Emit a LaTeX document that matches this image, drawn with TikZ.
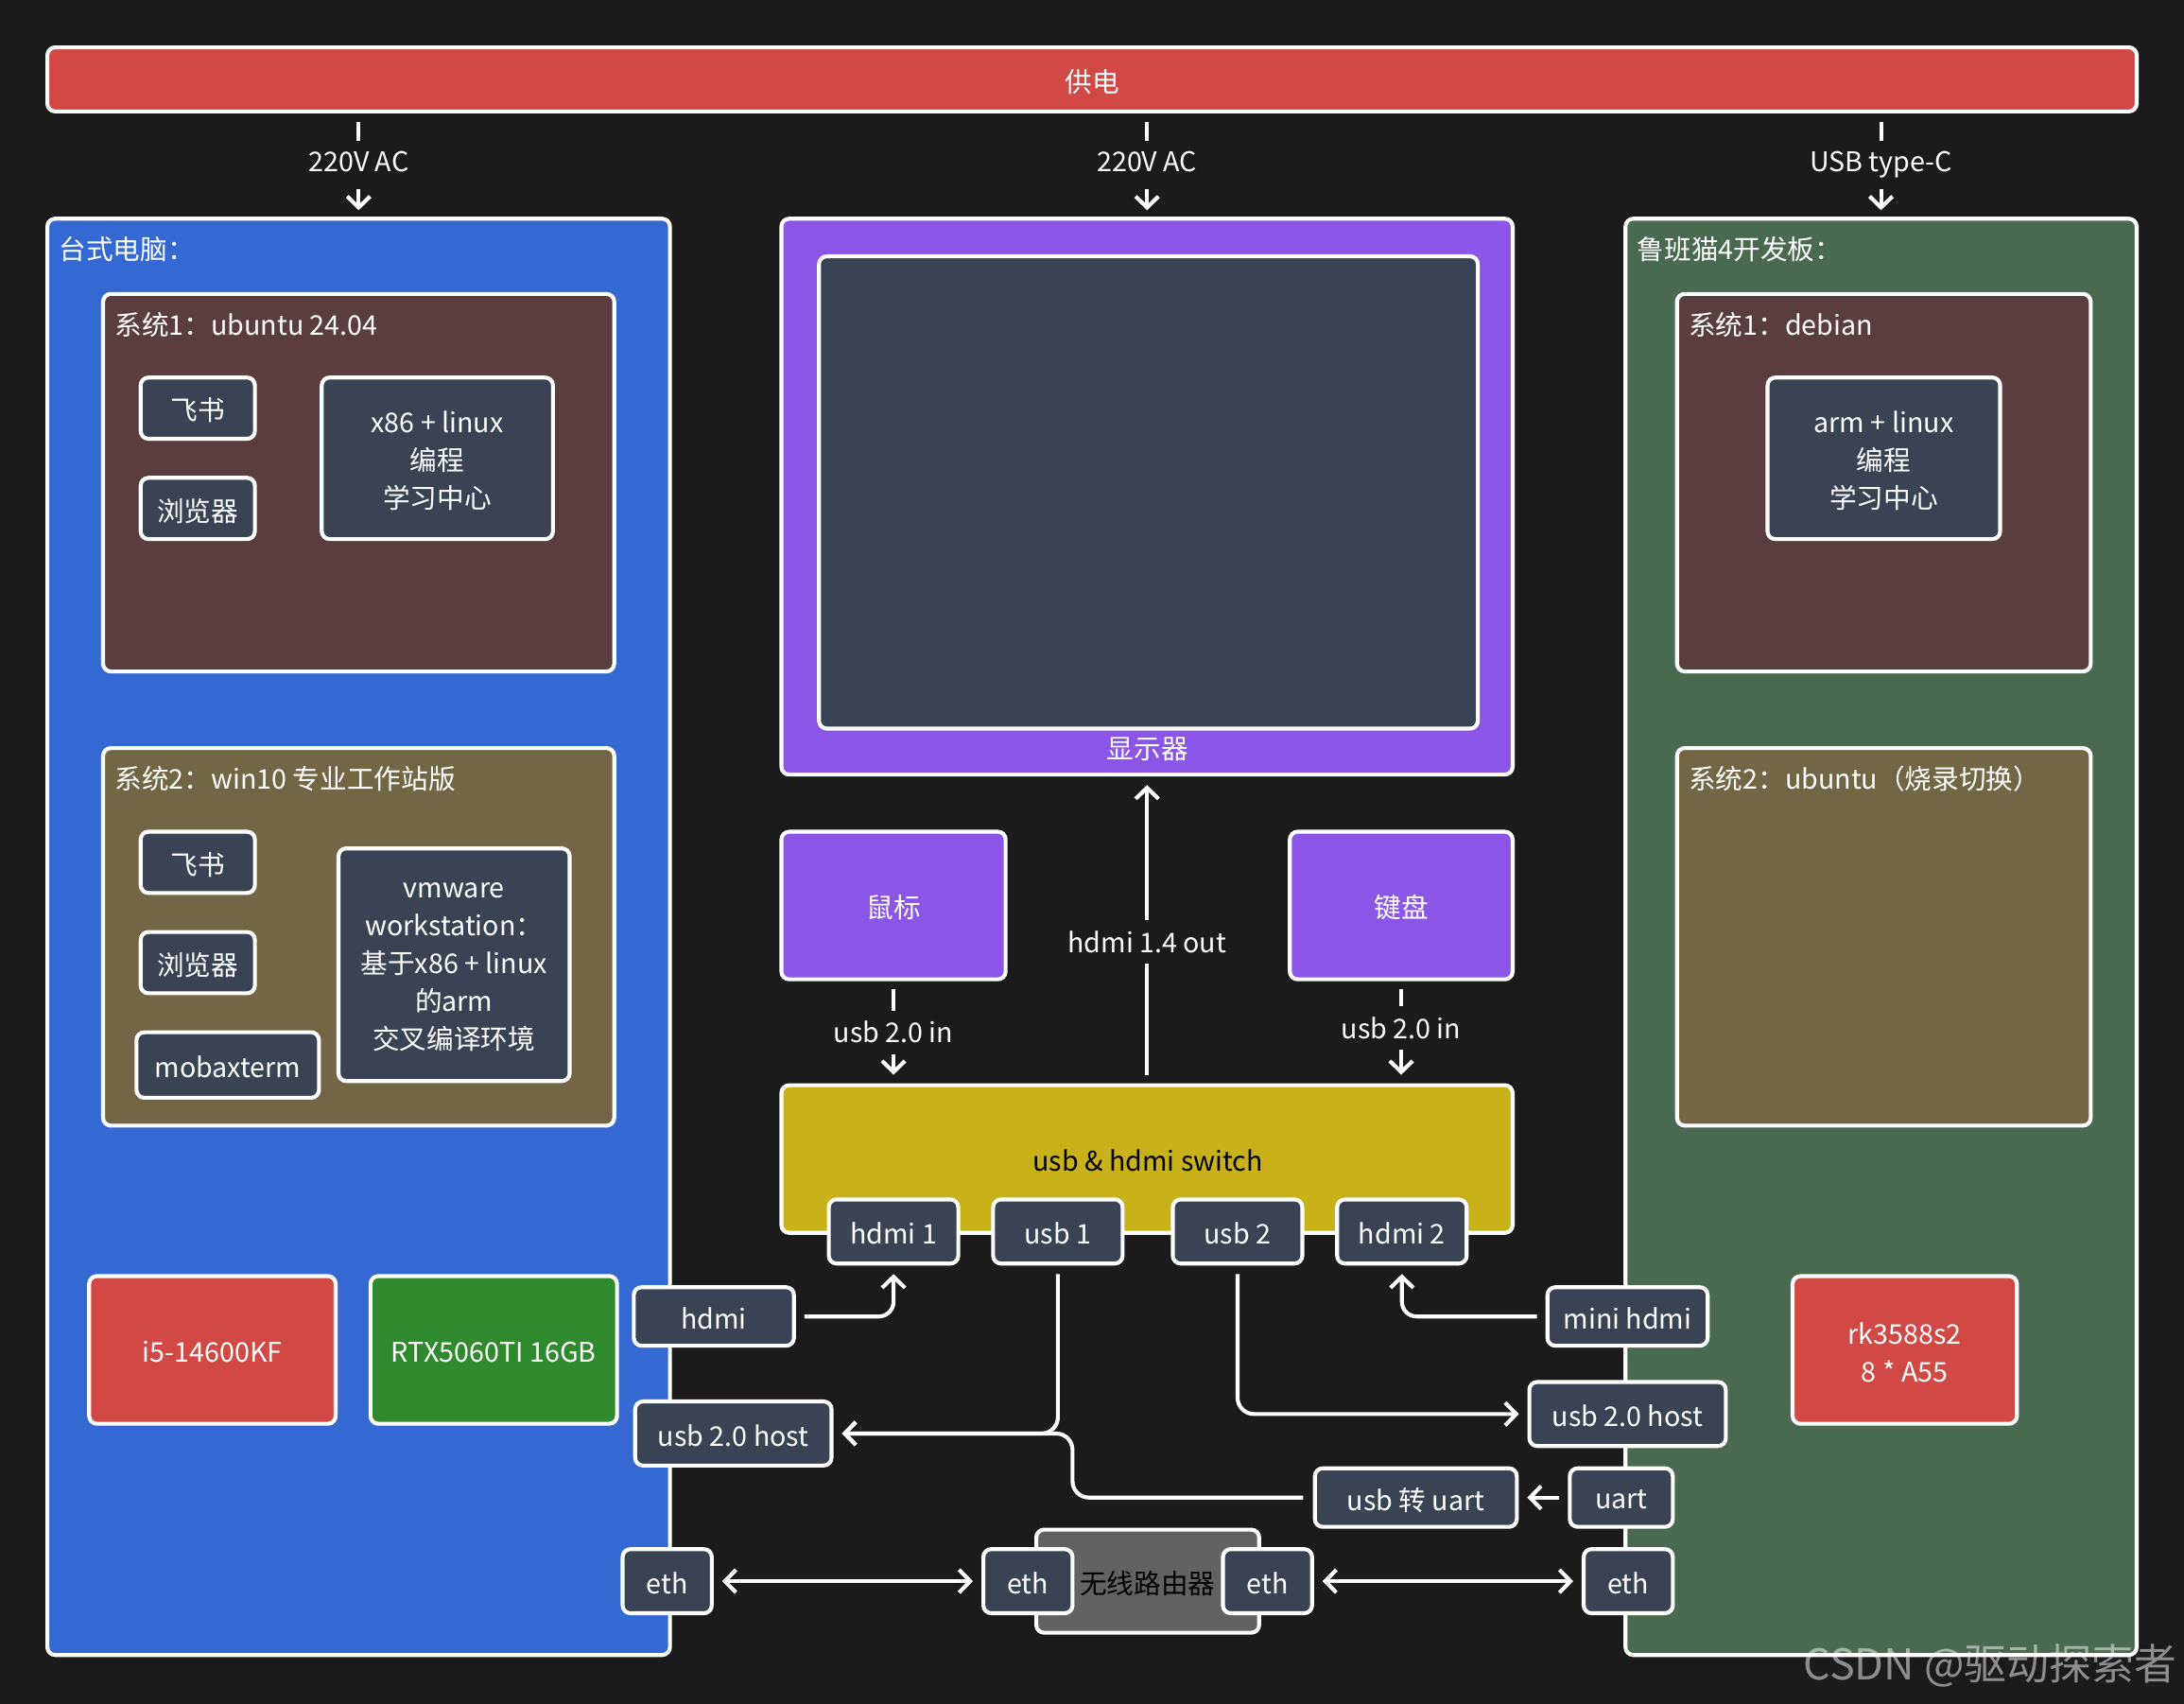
\documentclass[tikz,border=0pt]{standalone}
\usepackage{fontspec}
\setmainfont{Noto Sans CJK SC}
\usetikzlibrary{fit,arrows.meta}
\definecolor{bg}{HTML}{1B1B1B}
\definecolor{cred}{HTML}{D14845}
\definecolor{cblue}{HTML}{3468D2}
\definecolor{cmaroon}{HTML}{5A3D3F}
\definecolor{colive}{HTML}{736645}
\definecolor{cslate}{HTML}{3A4354}
\definecolor{cpurple}{HTML}{8B56E8}
\definecolor{cmustard}{HTML}{C9B11A}
\definecolor{cgreen}{HTML}{2F8A2E}
\definecolor{cboard}{HTML}{4A6A50}
\definecolor{cgrey}{HTML}{626262}
\newcommand\myfs{\fontsize{8.3}{11.6}\selectfont}
\tikzset{
  base/.style={draw=white, line width=1.2pt, rounded corners=2.4pt, inner sep=0pt},
  lt/.style={text=white, font=\myfs, align=center, inner sep=0pt},
  clt/.style={lt, yshift=-0.7pt},
  ttl/.style={anchor=west, text=white, font=\myfs, inner sep=0pt},
  conn/.style={draw=white, line width=1.2pt, -{Straight Barb[length=3.4pt,width=7pt]}},
  dconn/.style={draw=white, line width=1.2pt, {Straight Barb[length=3.4pt,width=7pt]}-{Straight Barb[length=3.4pt,width=7pt]}},
  lbl/.style={fill=bg, text=white, font=\myfs, inner xsep=1pt, inner ysep=3.3pt},
  pwr/.style={lbl, text depth=0.22em},
}
\begin{document}
\begin{tikzpicture}[x=0.015cm,y=-0.015cm]
\fill[bg] (0,0) rectangle (1568,1223);
\path[use as bounding box] (0,0) rectangle (1568,1223);

% power bar
\node[base, fill=cred, fit={(34,34)(1534,80)}, label={[clt]center:供电}] (power) {};

% big boxes
\node[base, fill=cblue, fit={(34,157)(481,1188)}] (pc) {};
\node[ttl] (pct) at (42,179) {台式电脑：};
\node[base, fill=cpurple, fit={(561,157)(1086,556)}] (mon) {};
\node[base, fill=cslate, fit={(588,184)(1061,523)}] (screen) {};
\node[lt] (mont) at (824,538) {显示器};
\node[base, fill=cboard, fit={(1167,157)(1534,1188)}] (board) {};
\node[ttl] (boardt) at (1175,179) {鲁班猫4开发板：};

% PC system 1
\node[base, fill=cmaroon, fit={(74,211)(441,482)}] (s1) {};
\node[ttl] (s1t) at (82,233) {系统1：ubuntu 24.04};
\node[base, fill=cslate, fit={(101,271)(183,315)}, label={[clt]center:飞书}] (fs1) {};
\node[base, fill=cslate, fit={(101,343)(183,387)}, label={[clt]center:浏览器}] (br1) {};
\node[base, fill=cslate, fit={(231,271)(397,387)}, label={[clt]center:x86 + linux\\编程\\学习中心}] (x86) {};

% PC system 2
\node[base, fill=colive, fit={(74,537)(441,808)}] (s2) {};
\node[ttl] (s2t) at (82,559) {系统2：win10 专业工作站版};
\node[base, fill=cslate, fit={(101,597)(183,641)}, label={[clt]center:飞书}] (fs2) {};
\node[base, fill=cslate, fit={(101,669)(183,713)}, label={[clt]center:浏览器}] (br2) {};
\node[base, fill=cslate, fit={(98,741)(229,788)}, label={[clt]center:mobaxterm}] (moba) {};
\node[base, fill=cslate, fit={(243,609)(409,776)}, label={[clt]center:vmware\\workstation：\\基于x86 + linux\\的arm\\交叉编译环境}] (vm) {};

\node[base, fill=cred, fit={(64,916)(241,1022)}, label={[clt]center:i5-14600KF}] (cpu) {};
\node[base, fill=cgreen, fit={(266,916)(443,1022)}, label={[clt]center:RTX5060TI 16GB}] (gpu) {};

% board systems
\node[base, fill=cmaroon, fit={(1204,211)(1501,482)}] (b1) {};
\node[ttl] (b1t) at (1212,233) {系统1：debian};
\node[base, fill=cslate, fit={(1269,271)(1436,387)}, label={[clt]center:arm + linux\\编程\\学习中心}] (arm) {};
\node[base, fill=colive, fit={(1204,537)(1501,808)}] (b2) {};
\node[ttl] (b2t) at (1212,559) {系统2：ubuntu（烧录切换）};
\node[base, fill=cred, fit={(1287,916)(1448,1022)}, label={[clt]center:rk3588s2\\8 * A55}] (rk) {};

% mouse, keyboard, switch
\node[base, fill=cpurple, fit={(561,597)(722,703)}, label={[clt]center:鼠标}] (mouse) {};
\node[base, fill=cpurple, fit={(926,597)(1086,703)}, label={[clt]center:键盘}] (kbd) {};
\node[base, fill=cmustard, fit={(561,779)(1086,885)}] (sw) {};
\node[lt, text=black] (swt) at (824,833) {usb \& hdmi switch};
\node[base, fill=cslate, fit={(595,861)(688,907)}, label={[clt]center:hdmi 1}] (h1) {};
\node[base, fill=cslate, fit={(713,861)(806,907)}, label={[clt]center:usb 1}] (u1) {};
\node[base, fill=cslate, fit={(842,861)(935,907)}, label={[clt]center:usb 2}] (u2) {};
\node[base, fill=cslate, fit={(960,861)(1053,907)}, label={[clt]center:hdmi 2}] (h2) {};

% ports
\node[base, fill=cslate, fit={(455,924)(570,966)}, label={[clt]center:hdmi}] (hdmiL) {};
\node[base, fill=cslate, fit={(456,1006)(597,1052)}, label={[clt]center:usb 2.0 host}] (hostL) {};
\node[base, fill=cslate, fit={(1111,924)(1226,966)}, label={[clt]center:mini hdmi}] (mini) {};
\node[base, fill=cslate, fit={(1098,992)(1239,1038)}, label={[clt]center:usb 2.0 host}] (hostR) {};
\node[base, fill=cslate, fit={(944,1054)(1089,1096)}, label={[clt]center:usb 转 uart}] (u2u) {};
\node[base, fill=cslate, fit={(1127,1054)(1201,1096)}, label={[clt]center:uart}] (uart) {};

% router
\node[base, fill=cgrey, fit={(744,1098)(904,1172)}] (router) {};
\node[lt, text=black] (routert) at (824,1137) {无线路由器};
\node[base, fill=cslate, fit={(706,1112)(770,1158)}, label={[clt]center:eth}] (re1) {};
\node[base, fill=cslate, fit={(878,1112)(942,1158)}, label={[clt]center:eth}] (re2) {};
\node[base, fill=cslate, fit={(447,1112)(511,1158)}, label={[clt]center:eth}] (ethL) {};
\node[base, fill=cslate, fit={(1137,1112)(1201,1158)}, label={[clt]center:eth}] (ethR) {};

% power connectors
\draw[conn, shorten <=2.6pt, shorten >=2pt] (power.south -| pc.north) -- (pc.north) node[pwr, pos=0.5] {220V AC};
\draw[conn, shorten <=2.6pt, shorten >=2pt] (power.south -| mon.north) -- (mon.north) node[pwr, pos=0.5] {220V AC};
\draw[conn, shorten <=2.6pt, shorten >=2pt] (power.south -| board.north) -- (board.north) node[pwr, pos=0.5] {USB type-C};

% monitor / peripherals
\draw[conn, shorten <=2.6pt, shorten >=2.6pt] (sw.north) -- (mon.south) node[lbl, pos=0.46] {hdmi 1.4 out};
\draw[conn, shorten <=2.4pt, shorten >=2.6pt] (mouse.south) -- (mouse.south |- sw.north) node[lbl, pos=0.5] {usb 2.0 in};
\draw[conn, shorten <=2.4pt, shorten >=2.6pt] (kbd.south) -- (kbd.south |- sw.north) node[lbl, pos=0.46] {usb 2.0 in};

% cables
\draw[conn, rounded corners=4.5pt, shorten <=2.6pt, shorten >=2.6pt] (hdmiL.east) -| (h1.south);
\draw[conn, rounded corners=4.5pt, shorten <=2.6pt, shorten >=2.6pt] (mini.west) -| (h2.south);
\draw[conn, rounded corners=5pt, shorten <=2.6pt, shorten >=2.6pt] (u1.south) |- (hostL.east);
\coordinate (uartbend) at (770,1075);
\draw[conn, rounded corners=5pt, shorten <=3pt, shorten >=2.6pt] (u2u.west) -- (uartbend) |- (hostL.east);
\draw[conn, rounded corners=5pt, shorten <=2.6pt, shorten >=2.6pt] (u2.south) |- (hostR.west);
\draw[conn, shorten <=2.6pt, shorten >=2.6pt] (uart.west) -- (u2u.east);
\draw[dconn, shorten <=2.6pt, shorten >=2.6pt] (ethL.east) -- (re1.west);
\draw[dconn, shorten <=2.6pt, shorten >=2.6pt] (re2.east) -- (ethR.west);

% watermark
\node[anchor=east, text=white, opacity=0.5, font=\fontsize{13}{16}\selectfont, inner sep=0pt] (wm) at (1563,1196) {CSDN @驱动探索者};
\end{tikzpicture}
\end{document}
